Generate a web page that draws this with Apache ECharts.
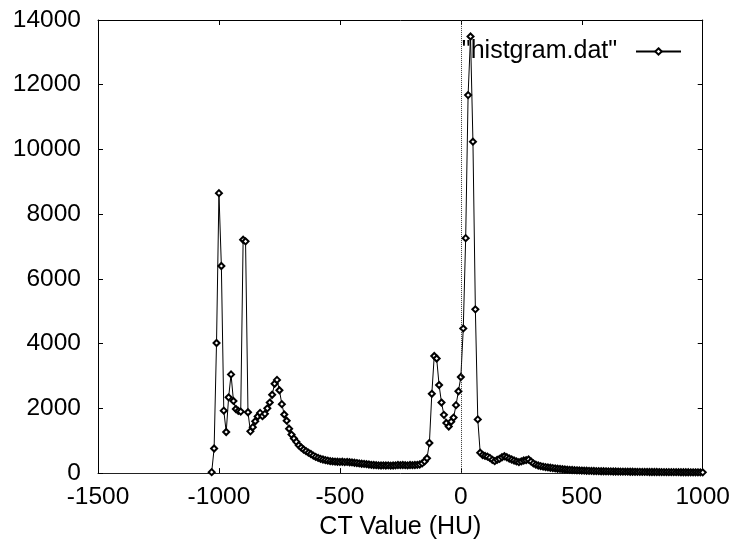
<!DOCTYPE html>
<html>
<head>
<meta charset="utf-8">
<script src="https://cdn.jsdelivr.net/npm/echarts@6/dist/echarts.min.js"></script>
<style>
html,body{margin:0;padding:0;background:#fff;}
#chart{width:733px;height:545px;}
</style>
</head>
<body>
<div id="chart"></div>
<script>
// Data
var seriesName = '"histgram.dat"';
var xAxisName = 'CT Value (HU)';
var xTicks = [-1500, -1000, -500, 0, 500, 1000];
var yTicks = [0, 2000, 4000, 6000, 8000, 10000, 12000, 14000];

var huValues = [
  -1030,-1020,-1010,-1000,-990,-980,-970,-960,-950,-940,
  -930,-920,-910,-900,-890,-880,-870,-860,-850,-840,
  -830,-820,-810,-800,-790,-780,-770,-760,-750,-740,
  -730,-720,-710,-700,-690,-680,-670,-660,-650,-640,
  -630,-620,-610,-600,-590,-580,-570,-560,-550,-540,
  -530,-520,-510,-500,-490,-480,-470,-460,-450,-440,
  -430,-420,-410,-400,-390,-380,-370,-360,-350,-340,
  -330,-320,-310,-300,-290,-280,-270,-260,-250,-240,
  -230,-220,-210,-200,-190,-180,-170,-160,-150,-140,
  -130,-120,-110,-100,-90,-80,-70,-60,-50,-40,
  -30,-20,-10,0,10,20,30,40,50,60,
  70,80,90,100,110,120,130,140,150,160,
  170,180,190,200,210,220,230,240,250,260,
  270,280,290,300,310,320,330,340,350,360,
  370,380,390,400,410,420,430,440,450,460,
  470,480,490,500,510,520,530,540,550,560,
  570,580,590,600,610,620,630,640,650,660,
  670,680,690,700,710,720,730,740,750,760,
  770,780,790,800,810,820,830,840,850,860,
  870,880,890,900,910,920,930,940,950,960,
  970,980,990,1000
];

var counts = [
  30,760,4020,8650,6400,1930,1270,2340,3050,2230,
  1980,1920,1900,7210,7160,1880,1290,1420,1600,1750,
  1860,1760,1830,2000,2180,2420,2760,2880,2560,2130,
  1810,1620,1370,1190,1070,965,860,790,730,680,
  630,590,540,500,470,440,420,400,385,370,
  360,355,350,345,350,340,345,335,330,320,
  310,300,290,285,275,265,255,250,245,240,
  235,240,235,240,230,235,240,250,245,250,
  245,240,250,245,250,255,265,300,360,460,
  930,2450,3620,3540,2720,2180,1800,1550,1440,1590,
  1715,2100,2530,2970,4470,7260,11680,13490,10240,5060,
  1660,630,560,530,510,470,410,370,410,440,
  490,520,490,450,420,390,360,340,360,390,
  400,420,360,300,260,235,215,200,185,175,
  165,155,145,135,128,120,112,106,100,95,
  90,86,82,78,75,72,70,67,65,62,
  60,58,56,55,53,52,50,49,48,46,
  45,44,43,42,41,40,39,38,37,36,
  36,35,34,33,33,32,31,31,30,30,
  29,29,28,28,27,27,26,26,25,25,
  24,24,23,23
];

var points = huValues.map(function (x, i) { return [x, counts[i]]; });

var FONT = '"Liberation Sans", Arial, Helvetica, sans-serif';
var xMin = xTicks[0], xMax = xTicks[xTicks.length - 1], xStep = xTicks[1] - xTicks[0];
var yMin = yTicks[0], yMax = yTicks[yTicks.length - 1], yStep = yTicks[1] - yTicks[0];
function plain(v) { return String(v); }

var chart = echarts.init(document.getElementById('chart'), null, {renderer: 'canvas'});
var lineCol = '#000';
var tickStyle = {show: true, inside: true, length: 5, lineStyle: {color: '#000', width: 1}};

chart.setOption({
  animation: false,
  backgroundColor: '#fff',
  textStyle: {fontFamily: FONT},
  grid: {left: 98, right: 29, top: 20, bottom: 65, containLabel: false},
  legend: {
    show: true,
    data: [seriesName],
    right: 51,
    top: 39,
    padding: 0,
    align: 'right',
    itemWidth: 45,
    itemHeight: 8,
    formatter: function (n) { return n + '  '; },
    textStyle: {fontFamily: FONT, fontSize: 25, color: '#000'}
  },
  xAxis: [{
    type: 'value', min: xMin, max: xMax, interval: xStep, position: 'bottom',
    name: xAxisName, nameLocation: 'middle', nameGap: 39,
    nameTextStyle: {fontFamily: FONT, fontSize: 25, color: '#000'},
    axisLine: {show: true, onZero: false, lineStyle: {color: '#222', width: 1}},
    axisTick: tickStyle,
    axisLabel: {fontFamily: FONT, fontSize: 24.5, color: '#000', margin: 12, formatter: plain},
    splitLine: {show: false}
  }, {
    type: 'value', min: xMin, max: xMax, interval: xStep, position: 'top',
    axisLine: {show: true, onZero: false, lineStyle: {color: lineCol, width: 1}},
    axisTick: tickStyle,
    axisLabel: {show: false},
    splitLine: {show: false}
  }],
  yAxis: [{
    type: 'value', min: yMin, max: yMax, interval: yStep, position: 'left',
    axisLine: {show: true, onZero: false, lineStyle: {color: lineCol, width: 1}},
    axisTick: tickStyle,
    axisLabel: {fontFamily: FONT, fontSize: 24.5, color: '#000', margin: 17, formatter: plain},
    splitLine: {show: false}
  }, {
    type: 'value', min: yMin, max: yMax, interval: yStep, position: 'right',
    axisLine: {show: true, onZero: false, lineStyle: {color: lineCol, width: 1}},
    axisTick: tickStyle,
    axisLabel: {show: false},
    splitLine: {show: false}
  }],
  series: [{
    name: seriesName,
    type: 'line',
    xAxisIndex: 0,
    yAxisIndex: 0,
    data: points,
    symbol: 'emptyDiamond',
    symbolSize: 6,
    showAllSymbol: true,
    lineStyle: {color: '#000', width: 1},
    itemStyle: {color: '#000', borderColor: '#000', borderWidth: 1},
    emphasis: {disabled: true},
    markLine: {
      silent: true,
      symbol: ['none', 'none'],
      label: {show: false},
      lineStyle: {type: 'dotted', color: '#333', width: 1},
      data: [{xAxis: 0}]
    }
  }]
});
</script>
</body>
</html>
